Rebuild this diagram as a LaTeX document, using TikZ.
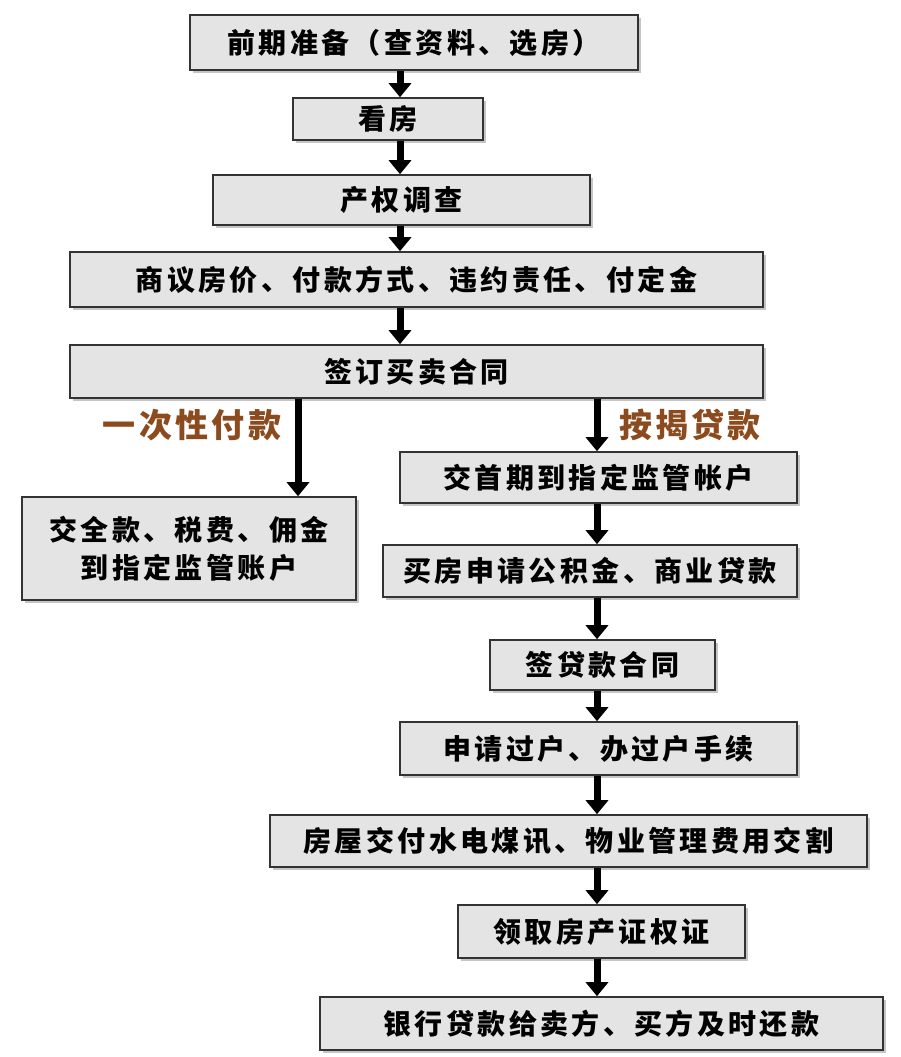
\documentclass[tikz,border=0pt]{standalone}
\usepackage{fontspec}
\newfontfamily\cjk[LetterSpace=12]{Noto Sans CJK SC}
\newfontfamily\cjkl[LetterSpace=10]{Noto Sans CJK SC}
\usetikzlibrary{shadows,arrows.meta}
\definecolor{boxfill}{RGB}{228,228,228}
\definecolor{lbl}{RGB}{140,75,30}
\tikzset{
 bx/.style={draw=black!80,line width=1.6pt,fill=boxfill,inner sep=0pt,
   drop shadow={shadow xshift=3pt,shadow yshift=-3pt,fill=black!45},
   font=\cjk\bfseries\fontsize{28}{34}\selectfont,align=center},
 ar/.style={line width=7pt,-{Triangle[length=14pt,width=22pt]}},
 lb/.style={font=\cjkl\bfseries\fontsize{33}{36}\selectfont,text=lbl}
}
\newcommand{\bxat}[6]{\node[bx,minimum width=#3pt-#2pt,minimum height=#5pt-#4pt] (#1) at ({(#2+#3)/2},{(#4+#5)/2}) {#6};}
\begin{document}
\begin{tikzpicture}[x=1pt,y=-1pt]
\useasboundingbox (0,0) rectangle (900,1057);
\fill[white] (0,0) rectangle (900,1057);
\bxat{b1}{190}{638}{15}{70}{前期准备（查资料、选房）}
\bxat{b2}{293}{483}{98}{140}{看房}
\bxat{b3}{213}{590}{175}{225}{产权调查}
\bxat{b4}{70}{763}{252}{307}{商议房价、付款方式、违约责任、付定金}
\bxat{b5}{70}{763}{345}{398}{签订买卖合同}
\bxat{b6}{22}{356}{497}{600}{交全款、税费、佣金\\[4pt]到指定监管账户}
\bxat{b7}{400}{797}{452}{503}{交首期到指定监管帐户}
\bxat{b8}{383}{797}{545}{597}{买房申请公积金、商业贷款}
\bxat{b9}{490}{715}{640}{690}{签贷款合同}
\bxat{b10}{400}{797}{722}{775}{申请过户、办过户手续}
\bxat{b11}{270}{867}{815}{867}{房屋交付水电煤讯、物业管理费用交割}
\bxat{b12}{458}{745}{905}{958}{领取房产证权证}
\bxat{b13}{320}{883}{997}{1050}{银行贷款给卖方、买方及时还款}
\node[lb] (l1) at (192,425) {一次性付款};
\node[lb] (l2) at (690,425) {按揭贷款};
\draw[ar] (b1.south -| 400,0) -- (b2.north -| 400,0);
\draw[ar] (b2.south -| 400,0) -- (b3.north -| 400,0);
\draw[ar] (b3.south -| 400,0) -- (b4.north -| 400,0);
\draw[ar] (b4.south -| 400,0) -- (b5.north -| 400,0);
\draw[ar] (b5.south -| 298,0) -- (b6.north -| 298,0);
\draw[ar] (b5.south -| 597,0) -- (b7.north -| 597,0);
\draw[ar] (b7.south -| 597,0) -- (b8.north -| 597,0);
\draw[ar] (b8.south -| 597,0) -- (b9.north -| 597,0);
\draw[ar] (b9.south -| 597,0) -- (b10.north -| 597,0);
\draw[ar] (b10.south -| 597,0) -- (b11.north -| 597,0);
\draw[ar] (b11.south -| 597,0) -- (b12.north -| 597,0);
\draw[ar] (b12.south -| 597,0) -- (b13.north -| 597,0);
\end{tikzpicture}
\end{document}
